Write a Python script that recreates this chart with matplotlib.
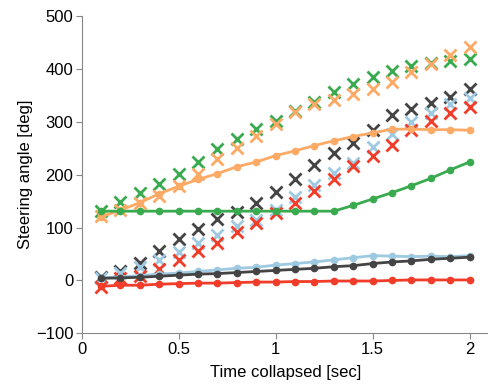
import matplotlib.pyplot as plt
import numpy as np

plt.rcParams["font.family"] = ["Liberation Sans", "DejaVu Sans"]

time_sec = np.round(np.arange(1, 21) * 0.1, 1)

# measured steering angle (x markers)
green_x = [132, 149, 165, 182, 202, 224, 248, 268, 286, 302,
           320, 338, 356, 371, 385, 396, 406, 412, 415, 419]
orange_x = [122, 134, 147, 160, 178, 202, 229, 251, 273, 296,
            318, 333, 342, 352, 362, 375, 394, 410, 426, 441]
gray_x = [6, 18, 33, 56, 78, 98, 117, 130, 146, 167,
          191, 219, 240, 260, 284, 313, 324, 335, 347, 361]
blue_x = [5, 14, 25, 39, 54, 70, 86, 103, 115, 134,
          157, 180, 204, 222, 253, 277, 300, 317, 333, 344]
red_x = [-12, 4, 9, 22, 39, 56, 71, 92, 109, 127,
         146, 170, 192, 217, 236, 256, 284, 302, 316, 328]

# model steering angle (lines with dots)
orange_line = [120, 133, 147, 164, 178, 191, 202, 215, 224, 236,
               245, 255, 264, 272, 279, 286, 286, 285, 285, 284]
green_line = [131, 131, 131, 131, 131, 131, 131, 131, 131, 131,
              131, 131, 131, 142, 154, 166, 179, 193, 209, 224]
blue_line = [5, 7, 9, 12, 14, 17, 20, 23, 25, 29,
             32, 35, 39, 43, 47, 46, 45, 46, 45, 47]
gray_line = [4, 5, 6, 8, 10, 12, 13, 15, 17, 19,
             21, 23, 26, 28, 32, 35, 37, 40, 42, 44]
red_line = [-11, -9, -9, -7, -6, -5, -5, -4, -3, -3,
            -2, -2, -1, -1, -1, 0, 1, 1, 1, 1]

GREEN = "#3aaa4f"
ORANGE = "#fdaa66"
BLUE = "#9ecae1"
GRAY = "#444444"
RED = "#f03c28"

fig = plt.figure(figsize=(4.89, 3.89), dpi=100)
ax = fig.add_axes([0.167, 0.143, 0.833, 0.816])

for values, color in [(green_x, GREEN), (orange_x, ORANGE), (gray_x, GRAY),
                      (blue_x, BLUE), (red_x, RED)]:
    ax.plot(time_sec, values, linestyle="none", marker="x", markersize=8,
            markeredgewidth=2, color=color)

for values, color in [(orange_line, ORANGE), (green_line, GREEN),
                      (blue_line, BLUE), (gray_line, GRAY), (red_line, RED)]:
    ax.plot(time_sec, values, marker="o", markersize=4.5, linewidth=2,
            color=color)

ax.set_xlim(0, 2.1)
ax.set_ylim(-100, 500)
ax.set_xticks([0, 0.5, 1, 1.5, 2])
ax.set_xticklabels(["0", "0.5", "1", "1.5", "2"])
ax.set_yticks(range(-100, 501, 100))
ax.set_xlabel("Time collapsed [sec]", fontsize=12, labelpad=6)
ax.set_ylabel("Steering angle [deg]", fontsize=12, labelpad=2)
ax.tick_params(labelsize=12, length=4, color="#888888", pad=2)

for side in ["top", "right"]:
    ax.spines[side].set_visible(False)
for side in ["left", "bottom"]:
    ax.spines[side].set_color("#888888")

fig.savefig("out.png", dpi=100)
